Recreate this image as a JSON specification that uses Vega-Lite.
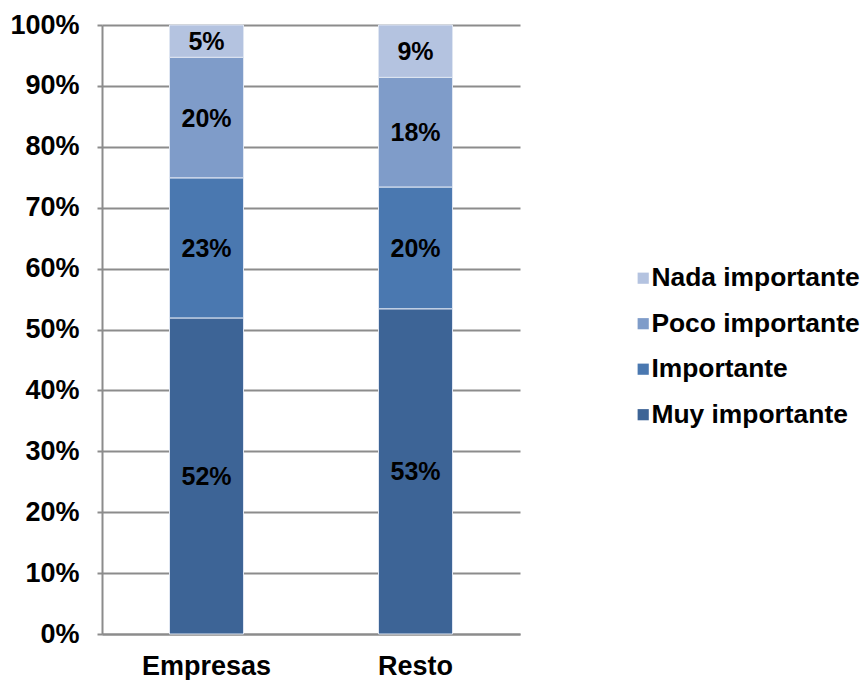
{
  "$schema": "https://vega.github.io/schema/vega-lite/v6.json",
  "width": 418,
  "height": 609,
  "autosize": {"type": "none"},
  "padding": {"left": 102, "top": 25, "right": 342, "bottom": 46},
  "background": "white",
  "config": {
    "view": {"stroke": null},
    "font": "Liberation Sans",
    "axis": {"labelFont": "Liberation Sans", "labelFontWeight": "bold", "labelFontSize": 27, "labelColor": "black"},
    "legend": {"labelFont": "Liberation Sans", "labelFontWeight": "bold", "labelFontSize": 26.4, "labelColor": "black", "labelLimit": 400}
  },
  "data": {
    "values": [
      {"grupo": "Empresas", "nivel": "Muy importante", "orden": 1, "valor": 0.519},
      {"grupo": "Empresas", "nivel": "Importante", "orden": 2, "valor": 0.230},
      {"grupo": "Empresas", "nivel": "Poco importante", "orden": 3, "valor": 0.198},
      {"grupo": "Empresas", "nivel": "Nada importante", "orden": 4, "valor": 0.053},
      {"grupo": "Resto", "nivel": "Muy importante", "orden": 1, "valor": 0.534},
      {"grupo": "Resto", "nivel": "Importante", "orden": 2, "valor": 0.200},
      {"grupo": "Resto", "nivel": "Poco importante", "orden": 3, "valor": 0.180},
      {"grupo": "Resto", "nivel": "Nada importante", "orden": 4, "valor": 0.086}
    ]
  },
  "transform": [
    {"stack": "valor", "groupby": ["grupo"], "sort": [{"field": "orden", "order": "ascending"}], "as": ["y0", "y1"]},
    {"calculate": "(datum.y0 + datum.y1) / 2", "as": "ymid"}
  ],
  "encoding": {
    "x": {
      "field": "grupo", "type": "nominal", "title": null,
      "scale": {"paddingInner": 0.646, "paddingOuter": 0.323},
      "axis": {"labelAngle": 0, "ticks": false, "domainColor": "#8c8c8c", "domainWidth": 2, "labelPadding": 19, "grid": false}
    }
  },
  "layer": [
    {
      "mark": {"type": "bar", "stroke": "#dfe6f2", "strokeWidth": 1},
      "encoding": {
        "y": {
          "field": "y0", "type": "quantitative", "title": null,
          "scale": {"domain": [0, 1], "nice": false},
          "axis": {"format": ".0%", "values": [0,0.1,0.2,0.3,0.4,0.5,0.6,0.7,0.8,0.9,1], "labelOverlap": false, "grid": true, "gridColor": "#8c8c8c", "gridWidth": 2, "domainColor": "#8c8c8c", "domainWidth": 2, "tickColor": "#8c8c8c", "tickWidth": 2, "tickSize": 5, "labelPadding": 18}
        },
        "y2": {"field": "y1"},
        "color": {
          "field": "nivel", "type": "nominal",
          "scale": {
            "domain": ["Nada importante", "Poco importante", "Importante", "Muy importante"],
            "range": ["#b4c3e0", "#7f9cc9", "#4a78b0", "#3d6496"]
          },
          "legend": {
            "title": null, "orient": "none", "legendX": 528, "legendY": 240,
            "symbolType": "square", "symbolSize": 125, "symbolStrokeWidth": 0,
            "rowPadding": 18.5, "labelOffset": -5
          }
        }
      }
    },
    {
      "mark": {"type": "text", "font": "Liberation Sans", "fontWeight": "bold", "fontSize": 25, "color": "black", "baseline": "middle", "dy": 1},
      "encoding": {
        "y": {
          "field": "ymid", "type": "quantitative",
          "axis": {"format": ".0%", "values": [0,0.1,0.2,0.3,0.4,0.5,0.6,0.7,0.8,0.9,1], "labelOverlap": false, "grid": true, "gridColor": "#8c8c8c", "gridWidth": 2, "domainColor": "#8c8c8c", "domainWidth": 2, "tickColor": "#8c8c8c", "tickWidth": 2, "tickSize": 5, "labelPadding": 18}
        },
        "text": {"field": "valor", "type": "quantitative", "format": ".0%"}
      }
    }
  ]
}
